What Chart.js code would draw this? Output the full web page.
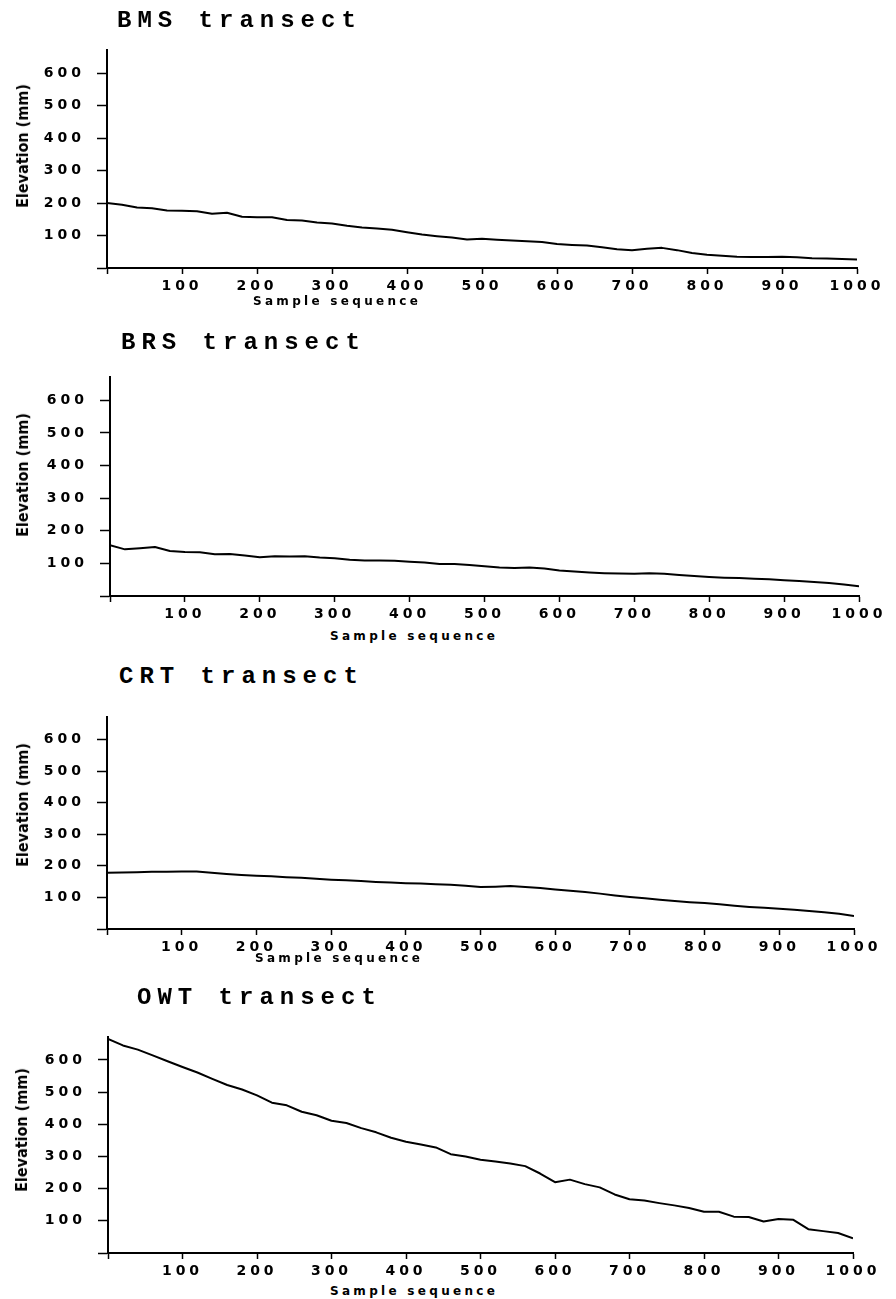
<!DOCTYPE html>
<html>
<head>
<meta charset="utf-8">
<script src="https://cdn.jsdelivr.net/npm/chart.js@4.4.0/dist/chart.umd.min.js"></script>
<style>
  html, body { margin: 0; padding: 0; background: #fff; }
  #page { position: relative; width: 896px; height: 1299px; overflow: hidden; background: #fff; }
  canvas { position: absolute; left: 0; }
  .title { position: absolute; font-family: "Liberation Mono", "Courier New", monospace; font-weight: bold; font-size: 24px; line-height: 24px; letter-spacing: 6px; color: #000; white-space: nowrap; }
  .xcap { position: absolute; font-family: "DejaVu Sans", sans-serif; font-weight: bold; font-size: 12px; line-height: 12px; letter-spacing: 3.3px; color: #000; white-space: nowrap; }
  .ycap { position: absolute; font-family: "Liberation Sans Narrow", "DejaVu Sans Condensed", sans-serif; font-weight: bold; font-size: 16px; line-height: 16px; color: #000; white-space: nowrap; transform: translate(-50%, -50%) rotate(-90deg); }
</style>
</head>
<body>
<div id="page"></div>
<script>
// sample positions along each transect
const sampleSeq = [0, 20, 40, 60, 80, 100, 120, 140, 160, 180, 200, 220, 240, 260, 280, 300, 320, 340, 360, 380,
  400, 420, 440, 460, 480, 500, 520, 540, 560, 580, 600, 620, 640, 660, 680, 700, 720, 740, 760, 780,
  800, 820, 840, 860, 880, 900, 920, 940, 960, 980, 1000];

// elevations (mm)
const bmsElev = [200, 195, 186, 184, 177, 176, 175, 167, 170, 158, 156, 156, 148, 146, 140, 137, 130, 125, 122, 118,
  110, 103, 98, 94, 88, 90, 87, 85, 82, 80, 74, 71, 69, 64, 58, 55, 59, 62, 55, 46,
  41, 38, 35, 34, 34, 35, 33, 30, 29, 28, 26];
const brsElev = [156, 143, 146, 150, 138, 135, 134, 128, 129, 124, 119, 122, 121, 122, 118, 116, 111, 109, 109, 108,
  105, 103, 98, 98, 95, 91, 87, 86, 87, 84, 78, 75, 72, 70, 69, 68, 70, 68, 64, 61,
  58, 56, 55, 53, 51, 48, 46, 43, 40, 35, 30];
const crtElev = [178, 179, 180, 181, 181, 182, 182, 178, 174, 171, 169, 167, 164, 162, 159, 156, 154, 152, 149, 147,
  145, 144, 142, 140, 137, 133, 134, 136, 133, 130, 125, 121, 117, 112, 106, 101, 97, 93, 89, 85,
  82, 78, 74, 70, 67, 64, 61, 57, 53, 48, 41];
const owtElev = [665, 645, 632, 614, 596, 578, 561, 541, 522, 508, 490, 467, 459, 439, 428, 411, 404, 388, 375, 358,
  346, 337, 328, 307, 300, 290, 284, 278, 270, 247, 220, 228, 214, 204, 182, 167, 163, 155, 148, 140,
  128, 128, 113, 112, 98, 106, 103, 74, 68, 62, 46];

const xTickValues = [100, 200, 300, 400, 500, 600, 700, 800, 900, 1000];
const yTickValues = [100, 200, 300, 400, 500, 600];

const panelNames = ['BMS transect', 'BRS transect', 'CRT transect', 'OWT transect'];
const panelSeries = [bmsElev, brsElev, crtElev, owtElev];

// page geometry of each panel (plot box, title, captions)
const panelBoxes = [
  { top: 40,   bottom: 268,  left: 107, right: 857, title: [117, 9],   xcap: [253, 295],  ycap: [23, 146] },
  { top: 367,  bottom: 596,  left: 110, right: 859, title: [121, 331], xcap: [330, 630],  ycap: [23, 475] },
  { top: 707,  bottom: 929,  left: 107, right: 854, title: [119, 665], xcap: [255, 952],  ycap: [23, 805] },
  { top: 1027, bottom: 1253, left: 108, right: 853, title: [137, 986], xcap: [330, 1285], ycap: [22, 1130] }
];

const PAD_TOP = 10;
const X_AXIS_H = 30;
const tickFont = { family: 'DejaVu Sans', weight: 'bold', size: 14 };

// wide-set tick digits like the original plotter font
const spacedTicks = {
  id: 'spacedTicks',
  beforeDraw(chart) { chart.ctx.letterSpacing = '4px'; },
  afterDraw(chart) { chart.ctx.letterSpacing = '0px'; }
};

const page = document.getElementById('page');

function addText(cls, text, x, y) {
  const d = document.createElement('div');
  d.className = cls;
  d.textContent = text;
  d.style.left = x + 'px';
  d.style.top = y + 'px';
  page.appendChild(d);
}

function buildPanel(i) {
  const box = panelBoxes[i];
  const cv = document.createElement('canvas');
  cv.width = 896;
  cv.height = PAD_TOP + (box.bottom - box.top) + X_AXIS_H;
  cv.style.top = (box.top - PAD_TOP) + 'px';
  page.appendChild(cv);

  addText('title', panelNames[i], box.title[0], box.title[1]);
  addText('xcap', 'Sample sequence', box.xcap[0], box.xcap[1]);
  addText('ycap', 'Elevation (mm)', box.ycap[0], box.ycap[1]);

  const points = sampleSeq.map((s, k) => ({ x: s, y: panelSeries[i][k] }));

  new Chart(cv, {
    type: 'line',
    data: {
      datasets: [{
        data: points,
        borderColor: '#000',
        borderWidth: 2,
        borderJoinStyle: 'round',
        pointRadius: 0,
        tension: 0,
        fill: false
      }]
    },
    options: {
      responsive: false,
      animation: false,
      layout: { padding: { top: PAD_TOP, right: 896 - box.right, bottom: 0, left: 0 } },
      plugins: { legend: { display: false }, tooltip: { enabled: false }, title: { display: false } },
      scales: {
        x: {
          type: 'linear', min: 0, max: 1000,
          afterBuildTicks: s => { s.ticks = [0].concat(xTickValues).map(v => ({ value: v })); },
          afterFit: s => { s.height = X_AXIS_H; },
          grid: { drawOnChartArea: false, drawTicks: true, tickLength: 6, tickWidth: 1.5, tickColor: '#000' },
          border: { display: true, color: '#000', width: 2 },
          ticks: {
            autoSkip: false, maxRotation: 0, padding: 4, color: '#000', font: tickFont,
            callback: v => (v === 0 ? '' : String(v))
          }
        },
        y: {
          type: 'linear', min: 0, max: 670,
          afterBuildTicks: s => { s.ticks = [0].concat(yTickValues).map(v => ({ value: v })); },
          afterFit: s => { s.width = box.left; },
          grid: { drawOnChartArea: false, drawTicks: true, tickLength: 10, tickWidth: 1.5, tickColor: '#000' },
          border: { display: true, color: '#000', width: 2 },
          ticks: {
            autoSkip: false, padding: 12, color: '#000', font: tickFont,
            callback: v => (v === 0 ? '' : String(v))
          }
        }
      }
    },
    plugins: [spacedTicks]
  });
}

panelNames.forEach((_, i) => buildPanel(i));
</script>
</body>
</html>
